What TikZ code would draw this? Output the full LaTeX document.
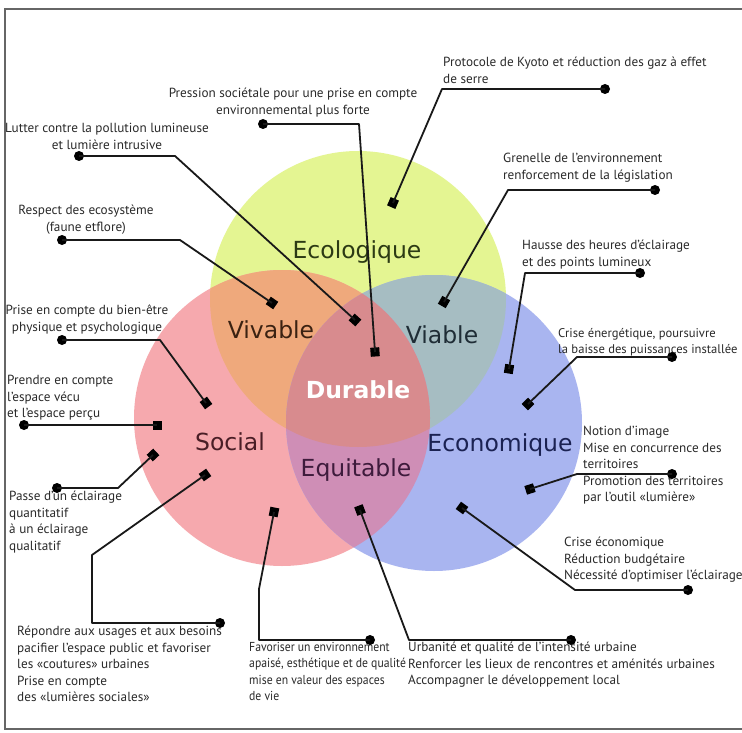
\documentclass[tikz,border=0pt]{standalone}
\usepackage{fontspec}
\setmainfont{PT Sans}
\newfontfamily\labelfont{DejaVu Sans}
\newfontfamily\narrowfont[FakeStretch=0.9]{PT Sans}
\definecolor{cY}{HTML}{E4F592}
\definecolor{cR}{HTML}{F6A9AE}
\definecolor{cB}{HTML}{A9B5F0}
\definecolor{cYR}{HTML}{EFA97C}
\definecolor{cYB}{HTML}{A6BDC2}
\definecolor{cRB}{HTML}{CF8EB6}
\definecolor{cC}{HTML}{D88B8E}
\definecolor{tEco}{HTML}{2C3A14}
\definecolor{tViv}{HTML}{3B2212}
\definecolor{tVia}{HTML}{1F2D36}
\definecolor{tSoc}{HTML}{4A1E26}
\definecolor{tEqu}{HTML}{3E1B3C}
\definecolor{tEcon}{HTML}{1B2252}
\definecolor{txtc}{HTML}{2A2A2A}
\begin{document}
\begin{tikzpicture}[x=1pt,y=-1pt,
  txt/.style={font=\fontsize{13.2}{16.5}\selectfont, inner sep=0pt, align=left, anchor=north west, text=txtc},
  ctxt/.style={txt, align=center, anchor=north},
  big/.style={font=\labelfont\fontsize{23.5}{28}\selectfont, inner sep=0pt, anchor=base},
  dotm/.style={circle, fill=black, minimum size=10pt, inner sep=0pt},
  sqm/.style={rectangle, fill=black, minimum size=9pt, inner sep=0pt},
  conn/.style={draw=black!90, line width=1.8pt, line join=round}]
\useasboundingbox (0,0) rectangle (742,733);
\clip (0,0) rectangle (742,733);
\fill[white] (0,0) rectangle (742,733);
\draw[black!60, line width=1.5pt] (5,9) rectangle (770,729);

% circles
\coordinate (Y) at (358,299);
\coordinate (R) at (282,418);
\coordinate (B) at (434,423);
\fill[cY] (Y) circle (148pt);
\fill[cR] (R) circle (148pt);
\fill[cB] (B) circle (148pt);
\begin{scope}
  \clip (Y) circle (148pt);
  \fill[cYR] (R) circle (148pt);
  \fill[cYB] (B) circle (148pt);
\end{scope}
\begin{scope}
  \clip (R) circle (148pt);
  \fill[cRB] (B) circle (148pt);
\end{scope}
\begin{scope}
  \clip (Y) circle (148pt);
  \clip (R) circle (148pt);
  \fill[cC] (B) circle (148pt);
\end{scope}

% region labels
\node[big, text=tEco] (eco) at (357,258) {Ecologique};
\node[big, text=tViv] (viv) at (271,338) {Vivable};
\node[big, text=tVia] (via) at (442,343) {Viable};
\node[big, text=white, font=\labelfont\bfseries\fontsize{23.5}{28}\selectfont] (dur) at (358,398) {Durable};
\node[big, text=tSoc] (soc) at (230,450) {Social};
\node[big, text=tEqu] (equ) at (356,476) {Equitable};
\node[big, text=tEcon] (econ) at (500,451) {Economique};

% annotation texts
\node[txt] (t1) at (443,57) {Protocole de Kyoto et réduction des gaz à effet\\de serre};
\node[ctxt] (t2) at (293,88) {Pression sociétale pour une prise en compte\\environnemental plus forte};
\node[ctxt] (t3) at (107,123) {Lutter contre la pollution lumineuse\\et lumière intrusive};
\node[ctxt] (t4) at (86,205) {Respect des ecosystème\\(faune etflore)};
\node[txt] (t5) at (503,153) {Grenelle de l'environnement\\renforcement de la législation};
\node[txt] (t6) at (522,240) {Hausse des heures d'éclairage\\et des points lumineux};
\node[txt, font=\fontsize{12.6}{16.5}\selectfont] (t7) at (558,328) {Crise énergétique, poursuivre\\la baisse des puissances installée};
\node[txt] (t8) at (583,426) {Notion d'image\\Mise en concurrence des\\territoires\\Promotion des territoires\\par l'outil «lumière»};
\node[txt] (t9) at (564,537) {Crise économique\\Réduction budgétaire\\Nécessité d'optimiser l'éclairage};
\node[txt] (t10) at (408,642) {Urbanité et qualité de l'intensité urbaine\\Renforcer les lieux de rencontres et aménités urbaines\\Accompagner le développement local};
\node[txt, font=\narrowfont\fontsize{13}{16.5}\selectfont] (t11) at (249,642) {Favoriser un environnement\\apaisé, esthétique et de qualité\\mise en valeur des espaces\\de vie};
\node[txt] (t12) at (17,626) {Répondre aux usages et aux besoins\\pacifier l'espace public et favoriser\\les «coutures» urbaines\\Prise en compte\\des «lumières sociales»};
\node[txt] (t13) at (9,491) {Passe d'un éclairage\\quantitatif\\à un éclairage\\qualitatif};
\node[txt] (t14) at (7,375) {Prendre en compte\\l'espace vécu\\et l'espace perçu};
\node[ctxt] (t15) at (87,305) {Prise en compte du bien-être\\physique et psychologique};

% end dots
\node[dotm] (d1) at (605,89) {};
\node[dotm] (d2) at (263,124) {};
\node[dotm] (d3) at (79,156) {};
\node[dotm] (d4) at (62,240) {};
\node[dotm] (d5) at (655,190) {};
\node[dotm] (d6) at (640,273) {};
\node[dotm] (d7) at (672,357) {};
\node[dotm] (d8) at (672,474) {};
\node[dotm] (d9) at (688,590) {};
\node[dotm] (d10) at (571,640) {};
\node[dotm] (d11) at (370,640) {};
\node[dotm] (d12) at (220,623) {};
\node[dotm] (d13) at (57,488) {};
\node[dotm] (d14) at (24,425) {};
\node[dotm] (d15) at (62,340) {};

% elbows
\coordinate (e1) at (442,89);
\coordinate (e2) at (359,124);
\coordinate (e3) at (175,156);
\coordinate (e4) at (180,240);
\coordinate (e5) at (508,190);
\coordinate (e6) at (525,273);
\coordinate (e7) at (577,357);
\coordinate (e8) at (577,474);
\coordinate (e9) at (575,590);
\coordinate (e10) at (409,640);
\coordinate (e11) at (259,640);
\coordinate (f11) at (259,589);
\coordinate (e12) at (92,623);
\coordinate (f12) at (92,555);
\coordinate (e13) at (118,488);
\coordinate (e15) at (160,340);

% square markers, turned along the last segment
\path (e1) -- (393,203) node[pos=1, sloped, sqm] (s1) {};
\path (e2) -- (375,352) node[pos=1, sloped, sqm] (s2) {};
\path (e3) -- (355,320) node[pos=1, sloped, sqm] (s3) {};
\path (e4) -- (272,303) node[pos=1, sloped, sqm] (s4) {};
\path (e5) -- (444,302) node[pos=1, sloped, sqm] (s5) {};
\path (e6) -- (509,369) node[pos=1, sloped, sqm] (s6) {};
\path (e7) -- (528,404) node[pos=1, sloped, sqm] (s7) {};
\path (e8) -- (530,489) node[pos=1, sloped, sqm] (s8) {};
\path (e9) -- (462,508) node[pos=1, sloped, sqm] (s9) {};
\path (e10) -- (360,510) node[pos=1, sloped, sqm] (s10) {};
\path (f11) -- (274,512) node[pos=1, sloped, sqm] (s11) {};
\path (f12) -- (205,475) node[pos=1, sloped, sqm] (s12) {};
\path (e13) -- (153,455) node[pos=1, sloped, sqm] (s13) {};
\path (d14) -- (157,425) node[pos=1, sloped, sqm] (s14) {};
\path (e15) -- (206,403) node[pos=1, sloped, sqm] (s15) {};

% connectors
\draw[conn] (d1.center) -- (e1) -- (s1.center);
\draw[conn] (d2.center) -- (e2) -- (s2.center);
\draw[conn] (d3.center) -- (e3) -- (s3.center);
\draw[conn] (d4.center) -- (e4) -- (s4.center);
\draw[conn] (d5.center) -- (e5) -- (s5.center);
\draw[conn] (d6.center) -- (e6) -- (s6.center);
\draw[conn] (d7.center) -- (e7) -- (s7.center);
\draw[conn] (d8.center) -- (e8) -- (s8.center);
\draw[conn] (d9.center) -- (e9) -- (s9.center);
\draw[conn] (d10.center) -- (e10) -- (s10.center);
\draw[conn] (d11.center) -- (e11) -- (f11) -- (s11.center);
\draw[conn] (d12.center) -- (e12) -- (f12) -- (s12.center);
\draw[conn] (d13.center) -- (e13) -- (s13.center);
\draw[conn] (d14.center) -- (s14.center);
\draw[conn] (d15.center) -- (e15) -- (s15.center);
\end{tikzpicture}
\end{document}
